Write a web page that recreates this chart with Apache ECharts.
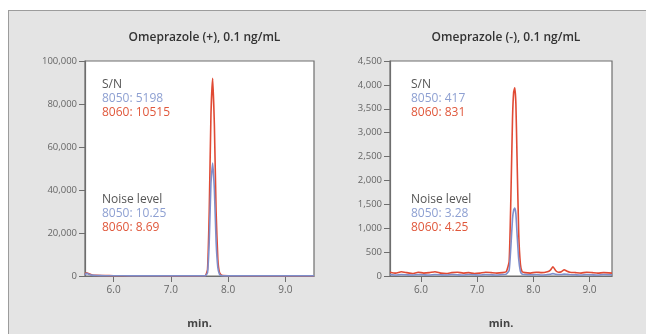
<!DOCTYPE html>
<html>
<head>
<meta charset="utf-8">
<script src="https://cdn.jsdelivr.net/npm/echarts@6/dist/echarts.min.js"></script>
<style>
  html, body { margin: 0; padding: 0; background: #fff; }
  #frame {
    position: absolute; left: 8px; top: 10px; width: 646px; height: 330px;
    background: #e4e4e4; border-top: 1px solid #9c9c9c; border-left: 1px solid #9c9c9c;
  }
  #chart { position: absolute; left: 0; top: 0; width: 646px; height: 334px; }
</style>
</head>
<body>
<div id="frame"></div>
<div id="chart"></div>
<script>
// Omeprazole (+), 0.1 ng/mL
const posTime = [5.50, 5.52, 5.55, 5.58, 5.62, 5.70, 5.85, 6.00, 6.30, 6.60, 6.90, 7.20, 7.45, 7.60, 7.64, 7.67, 7.70, 7.73, 7.76, 7.79, 7.82, 7.85, 7.89, 8.00, 8.30, 8.60, 9.00, 9.30, 9.50]
const pos8060 = [600, 1500, 1300, 900, 500, 300, 200, 150, 100, 100, 80, 80, 80, 100, 3000, 30000, 75000, 92000, 70000, 30000, 8000, 1500, 300, 100, 80, 80, 80, 80, 80]
const pos8050 = [500, 1200, 1000, 700, 400, 250, 150, 120, 80, 80, 60, 60, 60, 80, 1500, 16000, 43000, 52500, 40000, 16000, 4000, 800, 150, 80, 60, 60, 60, 60, 60]

// Omeprazole (-), 0.1 ng/mL
const negTime = [5.45, 5.55, 5.65, 5.75, 5.85, 5.95, 6.05, 6.15, 6.25, 6.35, 6.45, 6.55, 6.65, 6.75, 6.85, 6.95,
  7.05, 7.15, 7.25, 7.35, 7.45, 7.52, 7.57, 7.60, 7.63, 7.65, 7.67, 7.69, 7.71, 7.74, 7.77, 7.80,
  7.85, 7.95, 8.05, 8.15, 8.25, 8.30, 8.35, 8.40, 8.45, 8.50, 8.55, 8.60, 8.65, 8.75, 8.85, 8.95, 9.05, 9.15, 9.25, 9.40]
const neg8060 = [80, 60, 90, 70, 50, 80, 60, 70, 90, 60, 50, 70, 80, 60, 70, 50,
  60, 80, 70, 60, 70, 90, 300, 1600, 3300, 3850, 3940, 3600, 2500, 900, 250, 90,
  70, 60, 80, 70, 90, 120, 190, 110, 80, 90, 130, 100, 80, 70, 60, 80, 70, 60, 70, 60]
const neg8050 = [30, 20, 30, 25, 20, 30, 25, 20, 30, 25, 20, 30, 25, 20, 30, 25,
  20, 30, 25, 20, 30, 40, 120, 600, 1200, 1380, 1420, 1300, 900, 350, 100, 40,
  30, 25, 30, 20, 30, 35, 50, 35, 30, 30, 40, 35, 30, 25, 20, 30, 25, 20, 30, 25]

const timeTicks = [6, 7, 8, 9]
const titles = ['Omeprazole (+), 0.1 ng/mL', 'Omeprazole (-), 0.1 ng/mL']
const snValues = [['8050: 5198', '8060: 10515'], ['8050: 417', '8060: 831']]
const noiseValues = [['8050: 10.25', '8060: 8.69'], ['8050: 3.28', '8060: 4.25']]

const RED = '#e04a34'
const BLUE = '#7f8ecb'
const FONT = '"Open Sans", "Noto Sans", sans-serif'

const pairs = (xs, ys) => xs.map((x, i) => [x, ys[i]])

const xAxisFor = (idx, min, max) => ({
  type: 'value', gridIndex: idx, min, max,
  name: 'min.', nameLocation: 'middle', nameGap: 42,
  nameTextStyle: { color: '#444', fontSize: 11, fontWeight: 'bold', fontFamily: FONT },
  splitLine: { show: false },
  axisLine: { lineStyle: { color: '#6e6e6e', width: 1.2 } },
  axisTick: { customValues: timeTicks, length: 6, lineStyle: { color: '#6e6e6e' } },
  axisLabel: {
    customValues: timeTicks, margin: 9, color: '#666', fontSize: 10, fontFamily: FONT,
    formatter: v => v.toFixed(1)
  }
})

const yAxisFor = (idx, max, interval) => ({
  type: 'value', gridIndex: idx, min: 0, max, interval,
  splitLine: { show: false },
  axisLine: { show: true, lineStyle: { color: '#6e6e6e', width: 1.2 } },
  axisTick: { length: 6, lineStyle: { color: '#6e6e6e' } },
  axisLabel: {
    margin: 8, color: '#666', fontSize: 9.5, fontFamily: FONT,
    formatter: v => v.toLocaleString('en-US')
  }
})

const lineSeries = (idx, data, color) => ({
  type: 'line', xAxisIndex: idx, yAxisIndex: idx, data,
  showSymbol: false, smooth: 0.15,
  lineStyle: { color, width: 1.6 }, itemStyle: { color }
})

const annot = (x, lines) => lines.map(([text, color, y]) => ({
  type: 'text', left: x, top: y,
  style: { text, fill: color, font: '12px ' + FONT }
}))

const textBlock = (x, i) => annot(x, [
  ['S/N', '#555', 79],
  [snValues[i][0], '#8ea0d2', 93],
  [snValues[i][1], '#e0583c', 107],
  ['Noise level', '#555', 194],
  [noiseValues[i][0], '#8ea0d2', 208],
  [noiseValues[i][1], '#e0583c', 222]
])

const chart = echarts.init(document.getElementById('chart'), null, { renderer: 'canvas' })

chart.setOption({
  backgroundColor: 'transparent',
  animation: false,
  title: titles.map((text, i) => ({
    text, left: i === 0 ? 199.5 : 501, top: 27, textAlign: 'center',
    textStyle: { color: '#333', fontSize: 12, fontWeight: 600, fontFamily: FONT }
  })),
  grid: [
    { left: 85, top: 61, width: 229, height: 218, show: true, backgroundColor: '#fff', borderColor: '#6e6e6e', borderWidth: 1.2 },
    { left: 390, top: 61, width: 222, height: 218, show: true, backgroundColor: '#fff', borderColor: '#6e6e6e', borderWidth: 1.2 }
  ],
  xAxis: [xAxisFor(0, 5.5, 9.5), xAxisFor(1, 5.45, 9.4)],
  yAxis: [yAxisFor(0, 100000, 20000), yAxisFor(1, 4500, 500)],
  series: [
    lineSeries(0, pairs(posTime, pos8060), RED),
    lineSeries(0, pairs(posTime, pos8050), BLUE),
    lineSeries(1, pairs(negTime, neg8060), RED),
    lineSeries(1, pairs(negTime, neg8050), BLUE)
  ],
  graphic: [...textBlock(102, 0), ...textBlock(411, 1)]
})
</script>
</body>
</html>
